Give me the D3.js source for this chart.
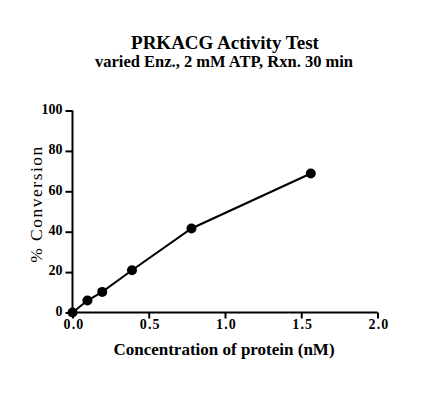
<!DOCTYPE html>
<html lang="en">
<head>
    <meta charset="UTF-8">
    <title>PRKACG Activity Test</title>
    <style>
        body,html{
            margin:0;
            padding:0;
            border:0;
            background:#fff;
        }
        text{font-family:"Liberation Serif","Times New Roman",serif;fill:#000;}
    </style>
</head>
<body>
    <svg id="svg" width="446" height="397"></svg>
    <script type="text/javascript" src="https://cdnjs.cloudflare.com/ajax/libs/d3/7.8.5/d3.min.js"></script>
    <script type="text/javascript">
        // protein concentration (nM) vs % conversion
        var conc = [0, 0.098, 0.195, 0.39, 0.78, 1.5625];
        var conversion = [0, 5.9, 10.2, 20.9, 41.6, 68.8];
        var xTicks = [0, 0.5, 1.0, 1.5, 2.0];
        var yTicks = [0, 20, 40, 60, 80, 100];

        var svg = d3.select("#svg");
        var plotLeft = 72.5, plotRight = 377.5, plotTop = 110.5, plotBottom = 312.5;

        var x = d3.scaleLinear().domain([0, 2]).range([plotLeft, plotRight]);
        var y = d3.scaleLinear().domain([0, 100]).range([plotBottom, plotTop]);

        svg.append("text").attr("x", 225).attr("y", 49)
            .attr("text-anchor", "middle").attr("font-size", 19).attr("font-weight", "bold")
            .text("PRKACG Activity Test");
        svg.append("text").attr("x", 224).attr("y", 67)
            .attr("text-anchor", "middle").attr("font-size", 16.5).attr("font-weight", "bold")
            .text("varied Enz., 2 mM ATP, Rxn. 30 min");

        var xAxis = svg.append("g").attr("transform", "translate(0," + plotBottom + ")")
            .call(d3.axisBottom(x).tickValues(xTicks).tickFormat(d3.format(".1f")).tickSize(6).tickSizeOuter(0));
        var yAxis = svg.append("g").attr("transform", "translate(" + plotLeft + ",0)")
            .call(d3.axisLeft(y).tickValues(yTicks).tickSize(7).tickSizeOuter(0));

        [xAxis, yAxis].forEach(function(a){
            a.attr("font-size", null).attr("font-family", null);
            a.select(".domain").attr("stroke", "#000").attr("stroke-width", 2);
            a.selectAll(".tick line").attr("stroke", "#000").attr("stroke-width", 2);
            a.selectAll(".tick text")
                .style("font-family", "'Liberation Serif', serif")
                .style("font-size", "14px").style("font-weight", "bold").attr("fill", "#000");
        });
        xAxis.select(".domain").attr("d", "M" + (plotLeft - 1) + ",0H" + plotRight);
        xAxis.selectAll(".tick text").attr("dy", 0).attr("y", 16.5).attr("letter-spacing", 1.2)
            .attr("dx", 1);
        yAxis.select(".domain").attr("d", "M0," + (plotBottom + 1) + "V" + plotTop);
        yAxis.selectAll(".tick text").attr("x", -10).attr("dy", "0.2em");

        svg.append("text").attr("x", 224).attr("y", 355)
            .attr("text-anchor", "middle").attr("font-size", 17).attr("font-weight", "bold")
            .text("Concentration of protein (nM)");
        svg.append("text")
            .attr("transform", "translate(42,204) rotate(-90)")
            .attr("text-anchor", "middle").attr("font-size", 17.5).attr("letter-spacing", 1.5)
            .text("% Conversion");

        var pts = conc.map(function(c, i){ return [c, conversion[i]]; });
        var line = d3.line().x(function(d){ return x(d[0]); }).y(function(d){ return y(d[1]); });
        svg.append("path").datum(pts).attr("d", line)
            .attr("fill", "none").attr("stroke", "#000").attr("stroke-width", 2);
        svg.selectAll("circle").data(pts).enter().append("circle")
            .attr("cx", function(d){ return x(d[0]); })
            .attr("cy", function(d){ return y(d[1]); })
            .attr("r", 5).attr("fill", "#000");
    </script>
</body>
</html>
